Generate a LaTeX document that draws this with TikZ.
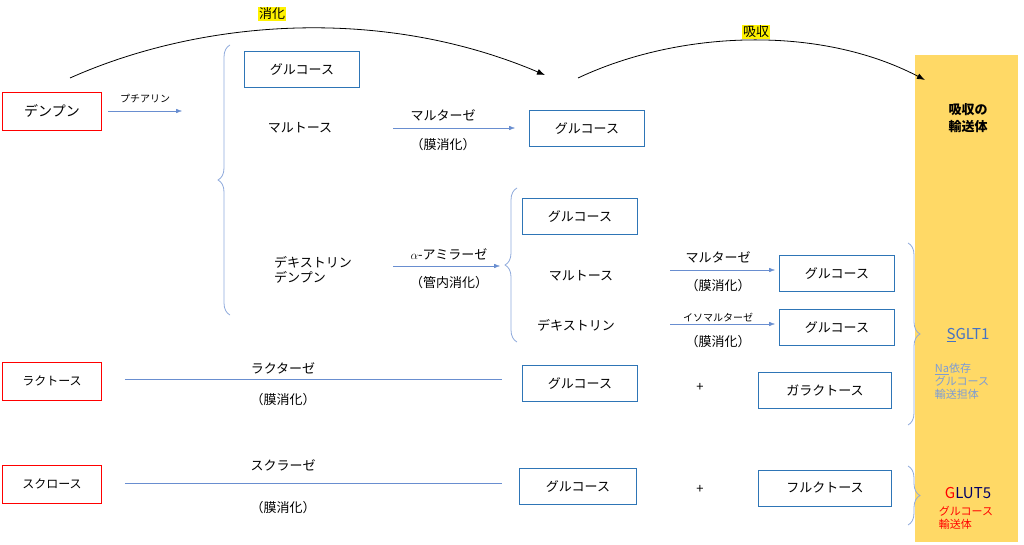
\documentclass[tikz,border=0pt]{standalone}
\usepackage{fontspec}
\setmainfont{Noto Sans CJK JP}
\usetikzlibrary{arrows.meta,decorations.pathreplacing}
\definecolor{bl}{HTML}{2E75B6}
\definecolor{ar}{HTML}{4472C4}
\definecolor{yl}{HTML}{FFD966}
\begin{document}
\begin{tikzpicture}[x=1pt,y=-1pt,
 bx/.style={draw=bl,thick,minimum width=#1,minimum height=36,inner sep=0,font=\fontsize{13}{15}\selectfont},
 bx/.default=115,
 rb/.style={draw=red,thick,minimum width=99,minimum height=38,inner sep=0},
 t/.style={font=\fontsize{13}{15}\selectfont,inner sep=0},
 ts/.style={font=\fontsize{10}{12}\selectfont,inner sep=0},
 ba/.style={draw=ar!80,-{Latex[length=6pt]}},
 br/.style={draw=ar!60,thick,decorate,decoration={brace,amplitude=12pt}}]
\useasboundingbox (0,0) rectangle (1024,545);
\fill[yl] (915,55) rectangle (1018,542);
\node[font=\bfseries\fontsize{13}{17}\selectfont,align=center] (h) at (968,118) {吸収の\\輸送体};
% curves
\coordinate (c1a) at (70,78); \coordinate (c1b) at (545,75);
\draw[thick,-{Latex[length=8pt]}] (c1a) .. controls (200,20) and (380,5) .. (c1b);
\node[fill=yellow,t,inner sep=1pt] (l1) at (272,14) {消化};
\coordinate (c2a) at (578,78); \coordinate (c2b) at (925,80);
\draw[thick,-{Latex[length=8pt]}] (c2a) .. controls (680,30) and (820,25) .. (c2b);
\node[fill=yellow,t,inner sep=1pt] (l2) at (756,32) {吸収};
% starch
\node[rb,font=\fontsize{14}{16}\selectfont] (dp) at (52,111) {デンプン};
\coordinate (pa) at (182,111);
\draw[ba] (108,111) -- (pa);
\node[ts] (pt) at (145,99) {プチアリン};
\draw[br] (230,315) -- (230,45);
\node[bx] (g1) at (302,69) {グルコース};
\node[t] (m1) at (300,128) {マルトース};
\coordinate (a1s) at (393,128); \coordinate (a1e) at (515,128);
\draw[ba] (a1s) -- (a1e);
\node[t] (e1) at (443,115) {マルターゼ};
\node[t] (p1) at (443,145) {（膜消化）};
\node[bx] (g2) at (587,128) {グルコース};
\node[t,align=left] (dx) at (313,270) {デキストリン\\デンプン};
\coordinate (a2s) at (393,266); \coordinate (a2e) at (500,266);
\draw[ba] (a2s) -- (a2e);
\node[t] (e2) at (449,254) {$\alpha$-アミラーゼ};
\node[t] (p2) at (449,283) {（管内消化）};
\draw[br] (517,342) -- (517,188);
\node[bx] (g3) at (580,216) {グルコース};
\node[t] (m2) at (581,276) {マルトース};
\coordinate (a3s) at (670,270); \coordinate (a3e) at (775,270);
\draw[ba] (a3s) -- (a3e);
\node[t] (e3) at (718,257) {マルターゼ};
\node[t] (p3) at (718,286) {（膜消化）};
\node[bx] (g4) at (837,273) {グルコース};
\node[t] (d2) at (576,325) {デキストリン};
\coordinate (a4s) at (670,324); \coordinate (a4e) at (775,324);
\draw[ba] (a4s) -- (a4e);
\node[ts] (e4) at (718,318) {イソマルターゼ};
\node[t] (p4) at (718,342) {（膜消化）};
\node[bx] (g5) at (837,327) {グルコース};
\draw[br] (908,243) -- (908,425);
\node[font=\fontsize{15}{17}\selectfont,text=ar] (sg) at (968,335) {\underline{S}GLT1};
\node[font=\fontsize{11}{13}\selectfont,text=ar!70,align=left] (sgt) at (962,381) {\underline{Na}依存\\グルコース\\輸送担体};
% lactose
\node[rb,font=\fontsize{12}{14}\selectfont] (la) at (52,381) {ラクトース};
\node[bx] (g6) at (580,383) {グルコース};
\draw[draw=ar!80] (la.east)++(23,-2) -- (502,379);
\node[t] (e5) at (283,368) {ラクターゼ};
\node[t] (p5) at (283,400) {（膜消化）};
\node[t] (pl1) at (700,387) {+};
\node[bx=133] (ga) at (825,390) {ガラクトース};
% sucrose
\node[rb,font=\fontsize{12}{14}\selectfont] (su) at (52,484) {スクロース};
\node[bx=117] (g7) at (578,486) {グルコース};
\draw[draw=ar!80] (su.east)++(23,-1) -- (502,483);
\node[t] (e6) at (283,465) {スクラーゼ};
\node[t] (p6) at (283,508) {（膜消化）};
\node[t] (pl2) at (700,489) {+};
\node[bx=133] (fr) at (825,488) {フルクトース};
\draw[br] (908,466) -- (908,525);
\node[font=\fontsize{15}{17}\selectfont] (gl) at (968,493) {\textcolor{red}{G}\textcolor{blue!40!black}{LUT5}};
\node[font=\fontsize{11}{13}\selectfont,text=red,align=left] (glt) at (966,518) {グルコース\\輸送体};
\end{tikzpicture}
\end{document}
